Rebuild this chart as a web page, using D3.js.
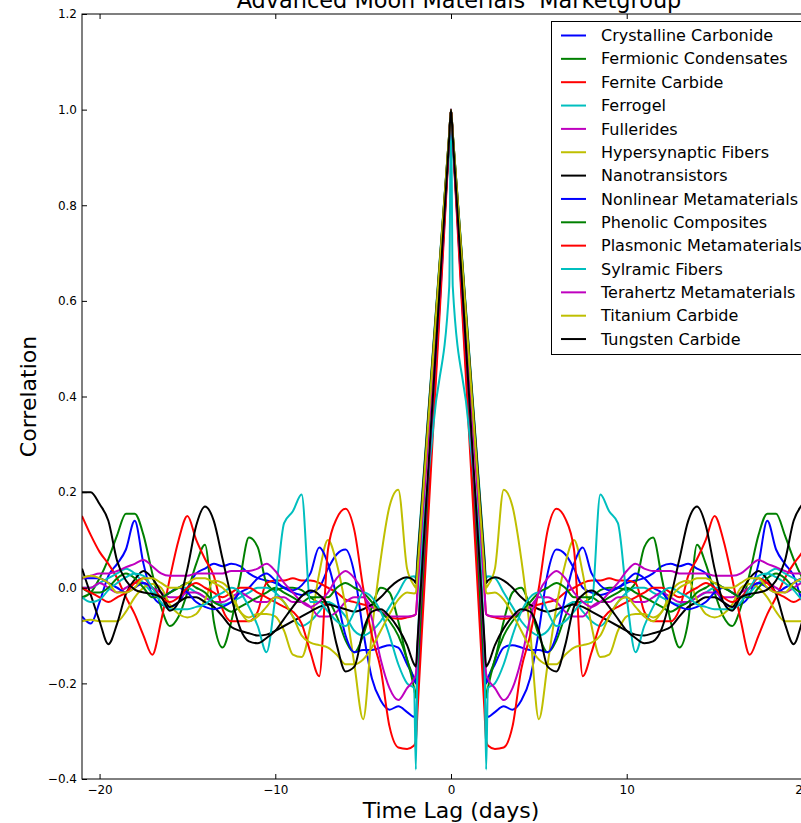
<!DOCTYPE html>
<html>
<head>
<meta charset="utf-8">
<script src="https://cdn.jsdelivr.net/npm/d3@7"></script>
<style>
  body { margin: 0; background: #fff; }
  text { font-family: "DejaVu Sans", sans-serif; }
</style>
</head>
<body>
<svg id="chart" width="801" height="823"></svg>
<script>
// lag in days (positive side only, the autocorrelation is mirrored around 0)
const lags = [0, 0.1, 1, 1.9, 2, 2.1, 2.5, 3, 3.5, 4, 4.5, 5, 5.5, 6, 6.5, 7, 7.5, 8, 8.5, 9, 9.5, 10,
              10.5, 11, 11.5, 12, 12.5, 13, 13.5, 14, 14.5, 15, 15.5, 16, 16.5, 17, 17.5, 18, 18.5, 19,
              19.5, 20, 20.5, 21];

const names = ["Crystalline Carbonide", "Fermionic Condensates", "Fernite Carbide", "Ferrogel", "Fullerides",
               "Hypersynaptic Fibers", "Nanotransistors", "Nonlinear Metamaterials", "Phenolic Composites",
               "Plasmonic Metamaterials", "Sylramic Fibers", "Terahertz Metamaterials", "Titanium Carbide",
               "Tungsten Carbide"];

const colors = ["#0000ff", "#008000", "#ff0000", "#00bfbf", "#bf00bf", "#bfbf00", "#000000",
                "#0000ff", "#008000", "#ff0000", "#00bfbf", "#bf00bf", "#bfbf00", "#000000"];

const crystalline = [1, 0.937, 0.365, -0.207, -0.27, -0.27, -0.26, -0.248, -0.255, -0.236, -0.19, -0.09, 0.03, 0.08, 0.07, 0.04, 0.0, -0.01, -0.015, -0.01, 0.0, 0.01, 0.015, 0.02, 0.03, 0.045, 0.05, 0.045, 0.05, 0.04, 0.03, 0.0, -0.03, -0.04, -0.035, -0.015, 0.05, 0.14, 0.08, 0.05, 0.025, -0.03, -0.075, -0.06];
const fermionic = [1, 0.94, 0.4, -0.14, -0.2, -0.19, -0.15, -0.07, -0.01, 0.0, -0.04, -0.1, -0.135, -0.11, -0.06, -0.03, -0.03, -0.02, -0.005, 0.0, 0.0, -0.005, 0.01, 0.085, 0.105, 0.02, -0.07, -0.125, -0.07, 0.09, 0.05, -0.01, -0.06, -0.08, -0.04, 0.03, 0.11, 0.155, 0.155, 0.11, 0.06, 0.02, -0.01, -0.02];
const fernite = [1, 0.947, 0.473, -0.002, -0.055, -0.058, -0.062, -0.065, -0.062, -0.05, -0.04, -0.035, -0.03, -0.025, -0.01, 0.0, 0.01, 0.015, 0.015, 0.02, 0.015, 0.015, 0.01, -0.05, -0.07, -0.07, -0.07, -0.045, 0.025, 0.06, 0.1, 0.15, 0.1, 0.02, -0.07, -0.14, -0.1, -0.055, -0.02, 0.02, 0.05, 0.075, 0.11, 0.15];
const ferrogel = [1, 0.951, 0.51, 0.069, 0.02, 0.024, 0.02, -0.01, -0.04, -0.07, -0.09, -0.1, -0.09, -0.06, -0.04, -0.03, -0.05, -0.07, -0.08, -0.06, -0.03, -0.01, 0.0, 0.0, -0.01, -0.02, -0.03, -0.035, -0.03, -0.02, -0.01, 0.0, 0.0, -0.01, -0.02, -0.01, 0.01, 0.03, 0.04, 0.03, 0.02, 0.01, 0.0, 0.0];
const fullerides = [1, 0.947, 0.473, -0.002, -0.055, -0.058, -0.06, -0.06, -0.06, -0.05, -0.04, -0.02, -0.02, -0.03, -0.05, -0.06, -0.06, -0.04, -0.03, -0.03, -0.02, -0.02, -0.03, -0.03, -0.02, -0.01, -0.02, -0.03, -0.03, -0.02, -0.01, -0.01, -0.02, -0.02, -0.01, 0.0, 0.01, 0.01, 0.0, -0.01, 0.0, 0.01, 0.0, 0.0];
const hypersynaptic = [1, 0.95, 0.5, 0.05, 0.0, 0.005, 0.04, 0.205, 0.17, 0.06, -0.09, -0.275, -0.16, -0.04, 0.05, 0.1, 0.03, -0.08, -0.145, -0.14, -0.09, -0.06, -0.055, -0.055, -0.062, -0.05, -0.01, 0.01, 0.015, -0.025, -0.055, -0.062, -0.055, -0.035, 0.0, 0.008, 0.0, -0.02, -0.05, -0.07, -0.07, -0.07, -0.067, -0.07];
const nanotransistors = [1, 0.95, 0.505, 0.06, 0.01, 0.015, 0.022, 0.015, 0.0, -0.02, -0.035, -0.045, -0.05, -0.045, -0.04, -0.035, -0.04, -0.05, -0.06, -0.07, -0.08, -0.09, -0.098, -0.1, -0.095, -0.09, -0.082, -0.06, -0.04, -0.03, -0.02, -0.02, -0.03, -0.04, -0.01, 0.02, 0.035, 0.017, -0.013, -0.075, -0.118, -0.07, -0.015, 0.04];
const nonlinear = [1, 0.94, 0.4, -0.14, -0.2, -0.19, -0.16, -0.125, -0.12, -0.125, -0.13, -0.13, -0.135, -0.1, -0.02, 0.05, 0.084, 0.03, 0.005, -0.005, 0.0, 0.015, 0.03, 0.02, 0.0, -0.01, -0.03, -0.04, -0.045, -0.04, -0.03, -0.01, 0.0, -0.01, -0.02, 0.0, 0.01, 0.0, -0.01, 0.0, 0.01, 0.02, 0.02, 0.02];
const phenolic = [1, 0.938, 0.385, -0.168, -0.23, -0.21, -0.15, -0.1, -0.07, -0.05, -0.03, -0.01, 0.0, 0.01, 0.0, -0.02, -0.02, -0.02, -0.03, -0.02, -0.01, 0.0, -0.01, -0.02, -0.03, -0.04, -0.05, -0.04, -0.03, -0.01, 0.0, 0.01, 0.0, -0.01, -0.02, -0.02, 0.0, 0.02, 0.03, 0.02, 0.0, -0.01, -0.01, 0.0];
const plasmonic = [1, 0.934, 0.34, -0.254, -0.32, -0.33, -0.337, -0.334, -0.29, -0.17, -0.1, 0.0, 0.12, 0.165, 0.145, 0.08, -0.185, -0.135, -0.075, -0.05, -0.04, -0.03, -0.02, -0.01, 0.0, 0.0, -0.01, -0.02, -0.01, 0.0, 0.01, 0.0, -0.02, -0.03, -0.02, 0.0, 0.02, 0.01, -0.01, -0.02, -0.03, -0.02, -0.01, 0.0];
const sylramic = [1, 0.63, 0.34, -0.13, -0.38, -0.21, -0.2, -0.16, -0.1, -0.05, -0.02, -0.01, -0.05, -0.08, -0.07, -0.05, -0.03, -0.03, 0.195, 0.16, 0.135, -0.02, -0.135, -0.08, -0.04, -0.01, 0.0, -0.01, -0.02, -0.035, -0.04, -0.045, -0.045, -0.045, -0.03, 0.0, 0.025, 0.03, 0.022, 0.01, -0.005, -0.025, -0.03, -0.02];
const terahertz = [1, 0.941, 0.41, -0.121, -0.18, -0.19, -0.21, -0.235, -0.21, -0.15, -0.065, -0.01, 0.02, 0.035, 0.02, -0.01, -0.03, -0.04, -0.03, -0.01, 0.01, 0.035, 0.05, 0.04, 0.035, 0.035, 0.035, 0.03, 0.03, 0.03, 0.03, 0.025, 0.025, 0.025, 0.03, 0.045, 0.058, 0.05, 0.043, 0.035, 0.03, 0.03, 0.025, 0.02];
const titanium = [1, 0.95, 0.495, 0.04, -0.01, -0.012, -0.01, -0.025, -0.055, -0.09, -0.125, -0.15, -0.16, -0.16, -0.14, -0.125, -0.12, -0.115, -0.1, -0.06, -0.03, -0.02, -0.04, -0.06, -0.07, -0.05, -0.02, 0.0, 0.01, 0.02, 0.02, 0.01, 0.0, 0.0, 0.01, 0.02, 0.02, 0.0, -0.01, -0.01, 0.01, 0.02, 0.025, 0.02];
const tungsten = [1, 0.942, 0.418, -0.107, -0.165, -0.16, -0.12, -0.085, -0.06, -0.045, -0.05, -0.09, -0.165, -0.175, -0.12, -0.04, -0.015, -0.006, -0.018, -0.04, -0.065, -0.09, -0.105, -0.116, -0.112, -0.085, -0.02, 0.06, 0.14, 0.17, 0.13, 0.04, -0.03, -0.048, -0.02, -0.013, -0.01, -0.004, 0.015, 0.056, 0.14, 0.175, 0.2, 0.2];

const seriesValues = [crystalline, fermionic, fernite, ferrogel, fullerides, hypersynaptic, nanotransistors,
                      nonlinear, phenolic, plasmonic, sylramic, terahertz, titanium, tungsten];

const xTicks = [-20, -10, 0, 10, 20];
const yTicks = [-0.4, -0.2, 0.0, 0.2, 0.4, 0.6, 0.8, 1.0, 1.2];

const svg = d3.select('#chart');
const plotLeft = 82, plotRight = 820, plotTop = 14, plotBottom = 779; // box runs past the window's right edge

const x = d3.scaleLinear().domain([-21, 21]).range([plotLeft, plotRight]);
const y = d3.scaleLinear().domain([-0.4, 1.2]).range([plotBottom, plotTop]);

svg.append('rect').attr('width', 801).attr('height', 823).attr('fill', '#fff');

svg.append('clipPath').attr('id', 'plotclip')
    .append('rect').attr('x', plotLeft).attr('y', plotTop)
    .attr('width', plotRight - plotLeft).attr('height', plotBottom - plotTop);

// mirror each series so it covers negative lags too
const series = names.map(function(name, i){
    let vals = seriesValues[i];
    let pts = [];
    for (let k = lags.length - 1; k > 0; k--) pts.push([-lags[k], vals[k]]);
    for (let k = 0; k < lags.length; k++) pts.push([lags[k], vals[k]]);
    return {name: name, color: colors[i], points: pts};
});

const line = d3.line()
    .x(d => x(d[0]))
    .y(d => y(d[1]))
    .curve(d3.curveMonotoneX);

svg.append('g').attr('clip-path', 'url(#plotclip)')
    .selectAll('path')
    .data(series)
    .enter().append('path')
    .attr('d', d => line(d.points))
    .attr('fill', 'none')
    .attr('stroke', d => d.color)
    .attr('stroke-width', 2)
    .attr('stroke-linejoin', 'round');

// axes, classic style: ticks point inward on all four sides
svg.append('g').attr('transform', 'translate(0,' + plotBottom + ')')
    .call(d3.axisBottom(x).tickValues(xTicks).tickSizeInner(-5).tickSizeOuter(0).tickPadding(6)
          .tickFormat(d3.format('d')));
svg.append('g').attr('transform', 'translate(0,' + plotTop + ')')
    .call(d3.axisTop(x).tickValues(xTicks).tickSizeInner(-5).tickSizeOuter(0).tickFormat(''));
svg.append('g').attr('transform', 'translate(' + plotLeft + ',0)')
    .call(d3.axisLeft(y).tickValues(yTicks).tickSizeInner(-5).tickSizeOuter(0).tickPadding(5)
          .tickFormat(d3.format('.1f')));
svg.append('g').attr('transform', 'translate(' + plotRight + ',0)')
    .call(d3.axisRight(y).tickValues(yTicks).tickSizeInner(-5).tickSizeOuter(0).tickFormat(''));

svg.selectAll('.domain').remove();
svg.selectAll('.tick line').attr('stroke', '#000');
svg.selectAll('.tick text').attr('font-size', 12).attr('fill', '#000')
    .style('font-family', '"DejaVu Sans", sans-serif');

svg.append('rect')
    .attr('x', plotLeft).attr('y', plotTop)
    .attr('width', plotRight - plotLeft).attr('height', plotBottom - plotTop)
    .attr('fill', 'none').attr('stroke', '#000').attr('stroke-width', 1);

// titles (the title keeps its double space)
svg.append('text').attr('x', 459).attr('y', 8).attr('text-anchor', 'middle')
    .style('white-space', 'pre')
    .attr('font-size', 22.4).text('Advanced Moon Materials  Marketgroup');
svg.append('text').attr('x', 451).attr('y', 818).attr('text-anchor', 'middle')
    .attr('font-size', 22).text('Time Lag (days)');
svg.append('text').attr('transform', 'translate(36,396.5) rotate(-90)').attr('text-anchor', 'middle')
    .attr('font-size', 22).text('Correlation');

// legend
const legend = svg.append('g');
legend.append('rect')
    .attr('x', 551.5).attr('y', 21.5).attr('width', 262).attr('height', 333)
    .attr('fill', '#fff').attr('stroke', '#000').attr('stroke-width', 1);
const items = legend.selectAll('g.item').data(series).enter().append('g')
    .attr('class', 'item')
    .attr('transform', (d, i) => 'translate(0,' + (35.5 + i * 23.35) + ')');
items.append('line').attr('x1', 561).attr('x2', 586).attr('y1', 0).attr('y2', 0)
    .attr('stroke', d => d.color).attr('stroke-width', 2);
items.append('text').attr('x', 601).attr('y', 0).attr('dy', '0.35em')
    .attr('font-size', 16).text(d => d.name);
</script>
</body>
</html>
